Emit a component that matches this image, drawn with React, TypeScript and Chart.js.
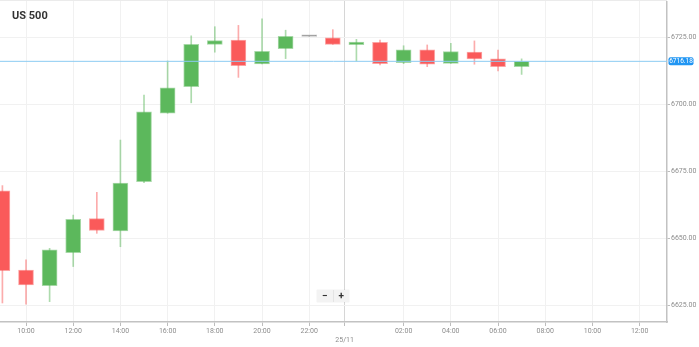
import React, { useEffect, useRef } from "react";
import { Chart, registerables } from "chart.js";

Chart.register(...registerables);

// Hour of each candle (24 = 00:00 on 25/11)
const hours = [9, 10, 11, 12, 13, 14, 15, 16, 17, 18, 19, 20, 21, 22, 23, 24, 25, 26, 27, 28, 29, 30, 31];
const opens = [6667.9, 6638.3, 6632.5, 6644.8, 6657.5, 6652.9, 6671.3, 6696.8, 6706.7, 6722.5, 6724.1, 6715.2, 6720.9, 6725.5, 6725.0, 6722.4, 6723.3, 6715.7, 6720.5, 6715.4, 6719.6, 6717.1, 6714.2];
const highs = [6669.8, 6642.1, 6646.4, 6658.8, 6667.3, 6686.8, 6703.6, 6716.3, 6725.7, 6729.1, 6729.6, 6732.0, 6727.8, 6725.5, 6728.0, 6724.4, 6724.1, 6722.0, 6722.3, 6722.9, 6723.8, 6720.4, 6717.1];
const lows = [6626.0, 6625.6, 6626.5, 6639.6, 6652.0, 6647.0, 6670.9, 6696.8, 6700.7, 6719.6, 6710.2, 6715.2, 6717.2, 6725.5, 6722.5, 6716.3, 6714.8, 6715.3, 6714.2, 6715.4, 6715.1, 6712.6, 6711.3];
const closes = [6638.1, 6632.7, 6645.8, 6657.2, 6653.1, 6670.7, 6697.3, 6706.3, 6722.5, 6723.9, 6714.6, 6719.9, 6725.5, 6725.5, 6722.5, 6723.4, 6715.3, 6720.5, 6715.1, 6719.8, 6717.1, 6714.2, 6716.18];

const currentPrice = 6716.18;
const yTicks = [6625, 6650, 6675, 6700, 6725];
const xTicks = [10, 12, 14, 16, 18, 20, 22, 23.5, 26, 28, 30, 32, 34, 36];
const dayLabel = "25/11";
const dayDivider = 23.5;
const xMin = 8.898;
const xMax = 37.16;
const yMin = 6618.9;
const yMax = 6738.7;

const GREEN = "rgb(92,184,92)";
const RED = "rgb(250,90,90)";
const GREY = "#8a8a8a";

function candleColor(i: number, alpha = 1) {
  if (opens[i] === closes[i]) return alpha === 1 ? GREY : "rgba(138,138,138," + alpha + ")";
  const up = closes[i] > opens[i];
  if (alpha === 1) return up ? GREEN : RED;
  return up ? `rgba(92,184,92,${alpha})` : `rgba(250,90,90,${alpha})`;
}

const priceLabelPlugin = {
  id: "priceLabel",
  afterDraw(chart: any) {
    const { ctx, chartArea } = chart;
    const y = chart.scales.y.getPixelForValue(currentPrice);
    const x0 = chartArea.right + 1.5;
    const w = 25;
    const h = 8;
    ctx.save();
    ctx.fillStyle = "#2196f3";
    ctx.beginPath();
    if (ctx.roundRect) ctx.roundRect(x0, y - h / 2, w, h, 2);
    else ctx.rect(x0, y - h / 2, w, h);
    ctx.fill();
    ctx.fillStyle = "#ffffff";
    ctx.font = "6.5px Roboto";
    ctx.textAlign = "center";
    ctx.textBaseline = "middle";
    ctx.fillText(currentPrice.toFixed(2), x0 + w / 2, y + 0.3);
    ctx.restore();
  },
};

function hh(v: number) {
  const h = ((v % 24) + 24) % 24;
  return (h < 10 ? "0" : "") + h + ":00";
}

export default function App() {
  const ref = useRef<HTMLCanvasElement | null>(null);

  useEffect(() => {
    if (!ref.current) return;
    const bodies = hours.map((h, i) => ({ x: h, y: [opens[i], closes[i]] }));
    const wicks = hours.map((h, i) => ({ x: h, y: [lows[i], highs[i]] }));
    const chart = new Chart(ref.current, {
      type: "bar",
      data: {
        datasets: [
          {
            type: "line",
            data: [
              { x: xMin, y: currentPrice },
              { x: xMax, y: currentPrice },
            ],
            borderColor: "#8ccbf2",
            borderWidth: 1,
            pointRadius: 0,
            order: -1,
          } as any,
          {
            data: bodies as any,
            backgroundColor: hours.map((_, i) => candleColor(i)),
            borderColor: hours.map((_, i) => candleColor(i, 0.55)),
            borderWidth: 1,
            borderSkipped: false,
            barThickness: 15,
            minBarLength: 1.5,
            grouped: false,
            order: 0,
          } as any,
          {
            data: wicks as any,
            backgroundColor: hours.map((_, i) => candleColor(i, 0.5)),
            borderWidth: 0,
            barThickness: 1,
            grouped: false,
            order: 1,
          } as any,
        ],
      },
      options: {
        animation: false,
        responsive: false,
        devicePixelRatio: 1,
        layout: { padding: 0 },
        plugins: { legend: { display: false }, tooltip: { enabled: false }, title: { display: false } },
        scales: {
          x: {
            type: "linear",
            min: xMin,
            max: xMax,
            offset: false,
            afterBuildTicks: (s: any) => {
              s.ticks = xTicks.map((v) => ({ value: v }));
            },
            afterFit: (s: any) => {
              s.height = 25;
              s.paddingLeft = 0;
              s.paddingRight = 0;
            },
            border: { color: "#c2c2c2", width: 1.5 },
            grid: {
              offset: false,
              color: (c: any) => (c.tick && c.tick.value === dayDivider ? "#d6d6d6" : "#f1f1f1"),
              tickColor: "#bdbdbd",
              tickLength: 4,
            },
            ticks: {
              autoSkip: false,
              maxRotation: 0,
              padding: 0,
              color: "#8c8c8c",
              font: { family: "Roboto", size: 7, lineHeight: 1.4 },
              callback: (v: any) => (Number(v) === dayDivider ? [" ", dayLabel] : hh(Number(v))),
            },
          },
          y: {
            type: "linear",
            position: "right",
            min: yMin,
            max: yMax,
            afterBuildTicks: (s: any) => {
              s.ticks = yTicks.map((v) => ({ value: v }));
            },
            afterFit: (s: any) => {
              s.width = 32;
              s.paddingTop = 0;
              s.paddingBottom = 0;
            },
            border: { color: "#c2c2c2", width: 1.5 },
            grid: { color: "#f1f1f1", tickColor: "#bdbdbd", tickLength: 3 },
            ticks: {
              padding: 1,
              color: "#8c8c8c",
              font: { family: "Roboto", size: 7 },
              callback: (v: any) => Number(v).toFixed(2),
            },
          },
        },
      },
      plugins: [priceLabelPlugin],
    });
    return () => chart.destroy();
  }, []);

  return (
    <div style={{ position: "fixed", left: 0, top: 0, width: 699, height: 347, background: "#fff", overflow: "hidden" }}>
      <div style={{ position: "absolute", left: 0, top: 0, width: 667, height: 1, background: "#ebebeb" }} />
      <div style={{ position: "absolute", left: 0, top: 1, width: 699, height: 346 }}>
        <canvas ref={ref} width={699} height={346} style={{ display: "block", width: 699, height: 346 }} />
      </div>
      <div
        style={{
          position: "absolute",
          left: 12,
          top: 9.5,
          fontFamily: "Roboto",
          fontWeight: 700,
          fontSize: 11,
          lineHeight: "11px",
          color: "#333",
          whiteSpace: "nowrap",
        }}
      >
        US 500
      </div>
      <div
        style={{
          position: "absolute",
          left: 317,
          top: 290,
          width: 32,
          height: 12,
          background: "#f3f3f3",
          boxShadow: "0 0 1px rgba(0,0,0,0.15)",
          display: "flex",
          fontFamily: "Roboto",
          fontWeight: 700,
          fontSize: 10,
          color: "#333",
        }}
      >
        <div style={{ width: 16, textAlign: "center", lineHeight: "12px", borderRight: "1px solid #e4e4e4" }}>−</div>
        <div style={{ width: 16, textAlign: "center", lineHeight: "12px" }}>+</div>
      </div>
    </div>
  );
}
